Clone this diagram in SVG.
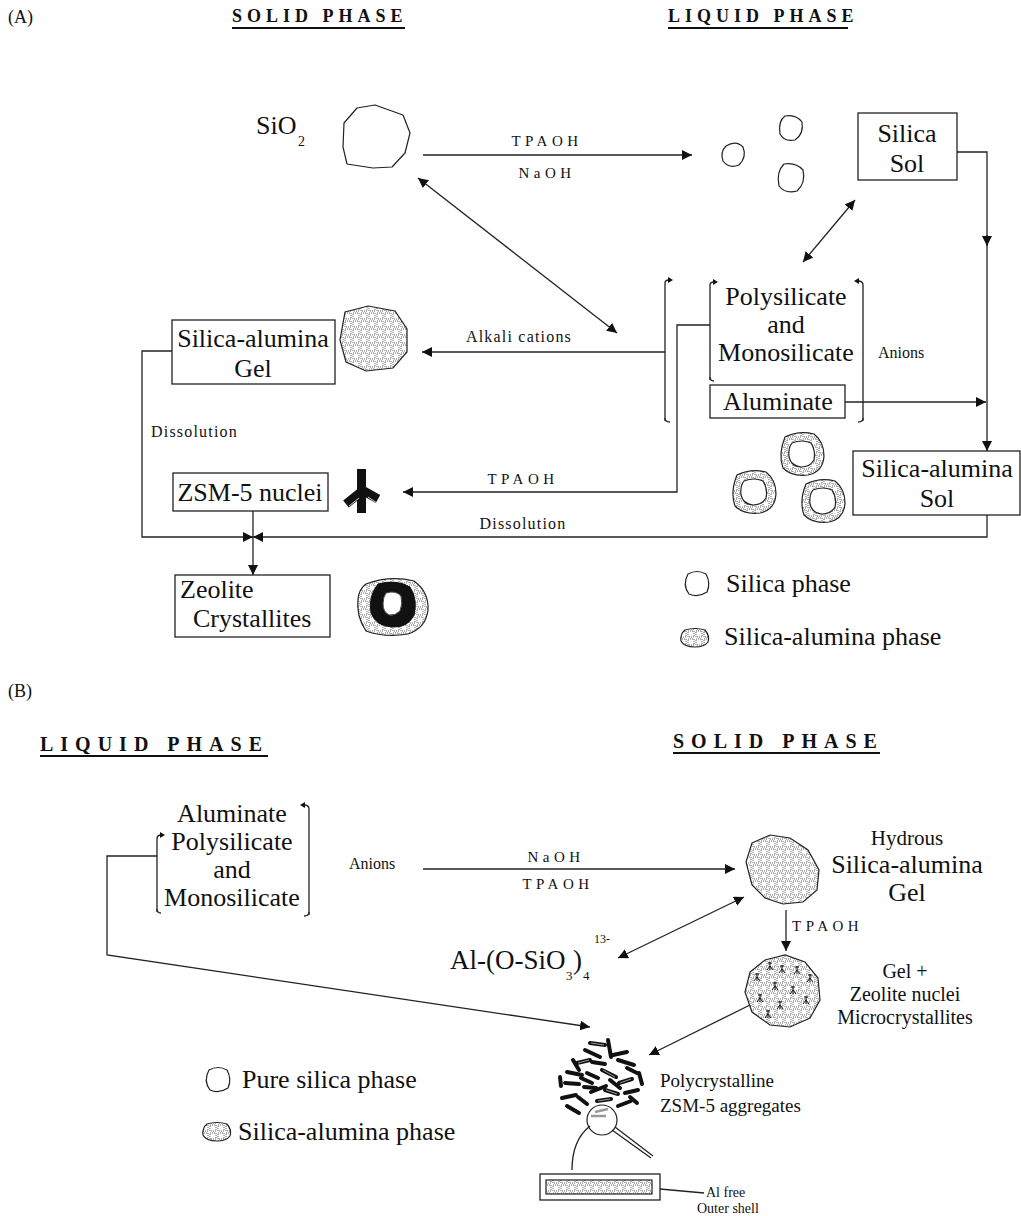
<svg xmlns="http://www.w3.org/2000/svg" width="1021" height="1216" viewBox="0 0 1021 1216">
<style>
text{font-family:"Liberation Serif","Times New Roman",serif;fill:#111}
.big{font-size:26px}
.hd{font-size:18px;font-weight:bold;letter-spacing:5px}
.hdb{font-size:20px;font-weight:bold;letter-spacing:7px}
.rg{font-size:15px;letter-spacing:4.5px}
.sm{font-size:16px;letter-spacing:1.2px}
.md{font-size:20px}
.ln{fill:none;stroke:#222;stroke-width:1.3}
.ul{stroke:#111;stroke-width:2.2}
.box{fill:#fff;stroke:#222;stroke-width:1.3}
.blob{fill:url(#stip);stroke:#222;stroke-width:1.2}
.clear{fill:#fff;stroke:#222;stroke-width:1.2}
.rod{stroke:#111;stroke-width:4;stroke-linecap:round}
.rodi{stroke:#bbb;stroke-width:0.8}
</style>
<defs>
<pattern id="stip" width="8" height="8" patternUnits="userSpaceOnUse">
<rect width="8" height="8" fill="#fff"/>
<rect x="1" y="1" width="6" height="6" fill="none" stroke="#333" stroke-width="0.8" stroke-dasharray="1 1"/>
</pattern>
<marker id="ah" viewBox="0 0 10 10" refX="10" refY="5" markerWidth="10" markerHeight="10" markerUnits="userSpaceOnUse" orient="auto-start-reverse">
<path d="M0,0 L10,5 L0,10 Z" fill="#111"/>
</marker>
<g id="sap">
<path class="blob" d="M-17,-17 Q-3,-24 12,-20 Q22,-12 22,2 Q21,18 6,21 Q-10,23 -19,14 Q-24,0 -17,-17 Z"/>
<path class="clear" d="M-10,-11 Q0,-15 9,-11 Q14,-3 12,6 Q8,13 -1,13 Q-11,12 -13,3 Q-14,-6 -10,-11 Z"/>
</g>
<path id="sblob" class="blob" d="M-10,-8 Q0,-11 10,-8 Q15,-2 13,4 Q9,9 0,9 Q-11,9 -14,3 Q-15,-4 -10,-8 Z"/>
<path id="kk" d="M0,-4 L0,4 M0,0 L-3,4 M0,0 L3,4 M-2,-3 L2,-3" fill="none" stroke="#111" stroke-width="1"/>
</defs>

<!-- ===== PART A ===== -->
<g id="titlesA">
<text x="8" y="23" style="font-size:18px">(A)</text>
<text x="232" y="22" class="hd">SOLID PHASE</text>
<line x1="232" y1="28" x2="405" y2="28" class="ul"/>
<text x="668" y="22" class="hd">LIQUID PHASE</text>
<line x1="668" y1="28" x2="848" y2="28" class="ul"/>
</g>

<g id="sio2">
<text x="256" y="134" style="font-size:26px">SiO</text>
<text x="298" y="146" style="font-size:14px">2</text>
<path class="clear" d="M357,108 L375,105 L403,115 L410,133 L405,153 L392,167 L373,168 L347,164 L343,147 L344,123 Z" stroke-linejoin="round"/>
</g>

<g id="silica-particles">
<path class="clear" d="M726,146 Q736,140 743,147 Q747,157 739,165 Q729,169 723,161 Q720,152 726,146 Z"/>
<path class="clear" d="M785,116 Q796,114 802,122 Q804,134 795,140 Q784,142 780,134 Q778,121 785,116 Z"/>
<path class="clear" d="M784,164 Q796,162 803,170 Q806,183 797,191 Q785,194 779,186 Q776,172 784,164 Z"/>
</g>

<g id="silica-sol">
<rect x="858" y="113" width="99" height="67" class="box"/>
<text x="907" y="142" class="big" text-anchor="middle">Silica</text>
<text x="907" y="172" class="big" text-anchor="middle">Sol</text>
</g>

<g id="anion-group">
<text x="786" y="305" class="big" text-anchor="middle">Polysilicate</text>
<text x="786" y="333" class="big" text-anchor="middle">and</text>
<text x="786" y="361" class="big" text-anchor="middle">Monosilicate</text>
<rect x="710" y="385" width="135" height="33" class="box"/>
<text x="778" y="410" class="big" text-anchor="middle">Aluminate</text>
<path class="ln" stroke-width="1.6" d="M665,421 V283 Q665,280 669,280"/>
<path d="M668,277 L673,280 L668,283 Z" fill="#111"/>
<path class="ln" stroke-width="1.6" d="M665,418 Q665,422 670,422"/>
<path class="ln" stroke-width="1.6" d="M710,380 V285 Q710,282 714,282"/>
<path d="M713,279 L718,282 L713,285 Z" fill="#111"/>
<path class="ln" stroke-width="1.6" d="M710,377 Q710,381 714,381"/>
<path class="ln" stroke-width="1.6" d="M863,421 V285 Q863,281 858,281"/>
<path d="M859,278 L854,281 L859,284 Z" fill="#111"/>
<path class="ln" stroke-width="1.6" d="M863,418 Q863,422 858,422"/>
<text x="878" y="358" style="font-size:16px">Anions</text>
</g>

<g id="gel-A">
<rect x="172" y="320" width="163" height="64" class="box"/>
<text x="253" y="347" class="big" text-anchor="middle">Silica-alumina</text>
<text x="253" y="377" class="big" text-anchor="middle">Gel</text>
<path class="blob" d="M345,312 L368,306 L395,311 L407,329 L407,352 L393,368 L366,371 L346,362 L340,340 Z"/>
</g>

<g id="sa-sol">
<rect x="853" y="451" width="167" height="64" class="box"/>
<text x="937" y="477" class="big" text-anchor="middle">Silica-alumina</text>
<text x="937" y="507" class="big" text-anchor="middle">Sol</text>
<use href="#sap" x="802" y="454"/>
<use href="#sap" x="754" y="492"/>
<use href="#sap" x="823" y="501"/>
</g>

<g id="zsm-nuclei">
<rect x="173" y="473" width="155" height="38" class="box"/>
<text x="250" y="501" class="big" text-anchor="middle">ZSM-5 nuclei</text>
<rect x="357" y="469" width="9" height="44" fill="#111"/>
<line x1="361" y1="492" x2="346" y2="504" stroke="#111" stroke-width="9"/>
<line x1="362" y1="490" x2="378" y2="499" stroke="#111" stroke-width="9"/>
<line x1="349" y1="506" x2="359" y2="498" stroke="#fff" stroke-width="0.8"/>
<line x1="368" y1="497" x2="377" y2="503" stroke="#fff" stroke-width="0.8"/>
</g>

<g id="zeolite">
<rect x="175" y="575" width="155" height="62" class="box"/>
<text x="180" y="598" class="big">Zeolite</text>
<text x="193" y="627" class="big">Crystallites</text>
<path class="blob" d="M366,584 Q390,575 414,581 Q429,592 428,610 Q426,628 408,634 Q385,638 366,631 Q356,616 358,599 Q359,589 366,584 Z"/>
<path d="M378,584 Q396,579 410,587 Q418,600 414,615 Q408,628 392,627 Q376,626 371,613 Q368,596 378,584 Z" fill="#111" stroke="#111"/>
<path d="M386,593 Q396,590 401,596 Q403,604 400,611 Q395,616 389,615 Q383,612 383,604 Q383,597 386,593 Z" fill="#fff" stroke="#444"/>
</g>

<g id="legend-A">
<path class="clear" d="M688,574 Q697,569 706,574 Q711,583 707,592 Q698,598 689,594 Q682,585 688,574 Z"/>
<text x="726" y="592" class="big">Silica phase</text>
<use href="#sblob" x="695" y="638"/>
<text x="724" y="645" class="big">Silica-alumina phase</text>
</g>

<g id="connectors-A">
<line x1="423" y1="155" x2="692" y2="155" class="ln" marker-end="url(#ah)"/>
<text x="547" y="146" class="rg" text-anchor="middle">TPAOH</text>
<text x="547" y="178" class="rg" text-anchor="middle">NaOH</text>
<line x1="418" y1="178" x2="617" y2="333" class="ln" marker-start="url(#ah)" marker-end="url(#ah)"/>
<line x1="803" y1="262" x2="855" y2="200" class="ln" marker-start="url(#ah)" marker-end="url(#ah)"/>
<path d="M957,152 H987 V451" class="ln" marker-end="url(#ah)"/>
<path d="M987,235 V246" class="ln" marker-end="url(#ah)"/>
<line x1="845" y1="402" x2="986" y2="402" class="ln" marker-end="url(#ah)"/>
<line x1="665" y1="352" x2="422" y2="352" class="ln" marker-end="url(#ah)"/>
<text x="519" y="342" class="sm" text-anchor="middle">Alkali cations</text>
<path d="M710,325 H677 V492 H403" class="ln" marker-end="url(#ah)"/>
<text x="523" y="484" class="rg" text-anchor="middle">TPAOH</text>
<path d="M172,351 H142 V537 H987 V515" class="ln"/>
<text x="151" y="437" class="sm">Dissolution</text>
<text x="523" y="529" class="sm" text-anchor="middle">Dissolution</text>
<path d="M243,532 L253,537 L243,542 Z M263,532 L253,537 L263,542 Z" fill="#111"/>
<line x1="253" y1="511" x2="253" y2="575" class="ln" marker-end="url(#ah)"/>
</g>

<!-- ===== PART B ===== -->
<g id="titlesB">
<text x="8" y="697" style="font-size:18px">(B)</text>
<text x="40" y="751" class="hdb">LIQUID PHASE</text>
<line x1="40" y1="756" x2="268" y2="756" class="ul"/>
<text x="673" y="748" class="hdb">SOLID PHASE</text>
<line x1="673" y1="753" x2="880" y2="753" class="ul"/>
</g>

<g id="anions-B">
<text x="232" y="822" class="big" text-anchor="middle">Aluminate</text>
<text x="232" y="850" class="big" text-anchor="middle">Polysilicate</text>
<text x="232" y="878" class="big" text-anchor="middle">and</text>
<text x="232" y="906" class="big" text-anchor="middle">Monosilicate</text>
<path class="ln" stroke-width="1.6" d="M157,912 V839 Q157,835 161,835"/>
<path d="M160,832 L165,835 L160,838 Z" fill="#111"/>
<path class="ln" stroke-width="1.6" d="M157,909 Q157,913 161,913"/>
<path class="ln" stroke-width="1.6" d="M309,915 V809 Q309,805 304,805"/>
<path d="M305,802 L300,805 L305,808 Z" fill="#111"/>
<path class="ln" stroke-width="1.6" d="M309,912 Q309,916 304,916"/>
<text x="349" y="869" style="font-size:16px">Anions</text>
</g>

<g id="hydrous-gel">
<path class="blob" d="M752,843 L770,835 L790,838 L808,850 L819,870 L817,890 L803,902 L783,904 L765,898 L752,885 L746,862 Z"/>
<text x="907" y="845" style="font-size:21px" text-anchor="middle">Hydrous</text>
<text x="907" y="873" class="big" text-anchor="middle">Silica-alumina</text>
<text x="907" y="901" class="big" text-anchor="middle">Gel</text>
</g>

<g id="al-complex">
<text x="450" y="969" style="font-size:27px">Al-(O-SiO</text>
<text x="566" y="980" style="font-size:13px">3</text>
<text x="573" y="969" style="font-size:27px">)</text>
<text x="583" y="980" style="font-size:13px">4</text>
<text x="594" y="943" style="font-size:12px">13-</text>
</g>

<g id="gel-nuclei">
<path class="blob" d="M765,960 L785,955 L805,962 L818,978 L820,1000 L810,1018 L790,1027 L770,1025 L752,1012 L745,992 L750,972 Z"/>
<use href="#kk" x="770" y="966"/>
<use href="#kk" x="782" y="969"/>
<use href="#kk" x="797" y="970"/>
<use href="#kk" x="757" y="977"/>
<use href="#kk" x="810" y="978"/>
<use href="#kk" x="775" y="986"/>
<use href="#kk" x="793" y="990"/>
<use href="#kk" x="760" y="998"/>
<use href="#kk" x="806" y="1000"/>
<use href="#kk" x="780" y="1005"/>
<use href="#kk" x="768" y="1014"/>
<text x="905" y="978" class="md" text-anchor="middle">Gel +</text>
<text x="905" y="1001" class="md" text-anchor="middle">Zeolite nuclei</text>
<text x="905" y="1024" class="md" text-anchor="middle">Microcrystallites</text>
</g>

<g id="aggregates">
<g class="rod">
<line x1="590" y1="1043" x2="605" y2="1045"/>
<line x1="608" y1="1040" x2="611" y2="1057"/>
<line x1="613" y1="1055" x2="627" y2="1052"/>
<line x1="585" y1="1050" x2="600" y2="1057"/>
<line x1="573" y1="1060" x2="579" y2="1070"/>
<line x1="577" y1="1063" x2="590" y2="1060"/>
<line x1="592" y1="1062" x2="605" y2="1064"/>
<line x1="618" y1="1060" x2="634" y2="1065"/>
<line x1="627" y1="1068" x2="637" y2="1073"/>
<line x1="639" y1="1073" x2="642" y2="1084"/>
<line x1="567" y1="1072" x2="582" y2="1075"/>
<line x1="587" y1="1073" x2="598" y2="1078"/>
<line x1="602" y1="1070" x2="616" y2="1077"/>
<line x1="560" y1="1077" x2="561" y2="1086"/>
<line x1="565" y1="1083" x2="579" y2="1084"/>
<line x1="581" y1="1078" x2="592" y2="1083"/>
<line x1="584" y1="1087" x2="596" y2="1088"/>
<line x1="610" y1="1080" x2="620" y2="1088"/>
<line x1="619" y1="1083" x2="632" y2="1079"/>
<line x1="591" y1="1092" x2="606" y2="1086"/>
<line x1="605" y1="1090" x2="618" y2="1094"/>
<line x1="625" y1="1093" x2="638" y2="1090"/>
<line x1="562" y1="1098" x2="576" y2="1095"/>
<line x1="578" y1="1097" x2="587" y2="1104"/>
<line x1="567" y1="1106" x2="579" y2="1113"/>
<line x1="597" y1="1101" x2="611" y2="1099"/>
<line x1="618" y1="1106" x2="631" y2="1101"/>
<line x1="630" y1="1097" x2="637" y2="1103"/>
</g>
<g class="rodi">
<line x1="591" y1="1043" x2="604" y2="1045"/>
<line x1="578" y1="1063" x2="589" y2="1060"/>
<line x1="603" y1="1070" x2="615" y2="1077"/>
<line x1="620" y1="1083" x2="631" y2="1079"/>
<line x1="606" y1="1090" x2="617" y2="1094"/>
<line x1="598" y1="1101" x2="610" y2="1099"/>
</g>
<text x="660" y="1087" style="font-size:19px">Polycrystalline</text>
<text x="660" y="1112" style="font-size:19px">ZSM-5 aggregates</text>
<circle cx="602" cy="1120" r="15" fill="none" stroke="#222" stroke-width="1.2"/>
<line x1="595" y1="1112" x2="608" y2="1109" stroke="#999" stroke-width="2.5"/>
<line x1="591" y1="1116" x2="606" y2="1116" stroke="#999" stroke-width="2.5"/>
<path d="M612,1130 L651,1158 M615,1127 L653,1156" class="ln" stroke-width="1"/>
<path d="M590,1126 Q572,1140 572,1170" class="ln"/>
<rect x="540" y="1174" width="120" height="26" class="box"/>
<rect x="546" y="1180" width="106" height="14" class="blob" stroke-width="0.8"/>
<line x1="660" y1="1189" x2="704" y2="1193" class="ln" stroke-width="1"/>
<text x="706" y="1197" style="font-size:14px">Al free</text>
<text x="697" y="1213" style="font-size:14px">Outer shell</text>
</g>

<g id="legend-B">
<path class="clear" d="M209,1070 Q218,1065 227,1070 Q232,1079 228,1088 Q219,1094 210,1090 Q203,1081 209,1070 Z"/>
<text x="242" y="1088" class="big">Pure silica phase</text>
<use href="#sblob" x="217" y="1132"/>
<text x="238" y="1140" class="big">Silica-alumina phase</text>
</g>

<g id="connectors-B">
<line x1="423" y1="869" x2="735" y2="869" class="ln" marker-end="url(#ah)"/>
<text x="556" y="862" class="rg" text-anchor="middle">NaOH</text>
<text x="558" y="889" class="rg" text-anchor="middle">TPAOH</text>
<line x1="786" y1="910" x2="786" y2="951" class="ln" marker-end="url(#ah)"/>
<text x="792" y="931" class="rg">TPAOH</text>
<line x1="618" y1="958" x2="744" y2="897" class="ln" marker-start="url(#ah)" marker-end="url(#ah)"/>
<path d="M157,856 H107 V955 L590,1027" class="ln" marker-end="url(#ah)"/>
<line x1="750" y1="1005" x2="649" y2="1055" class="ln" marker-end="url(#ah)"/>
</g>
</svg>
